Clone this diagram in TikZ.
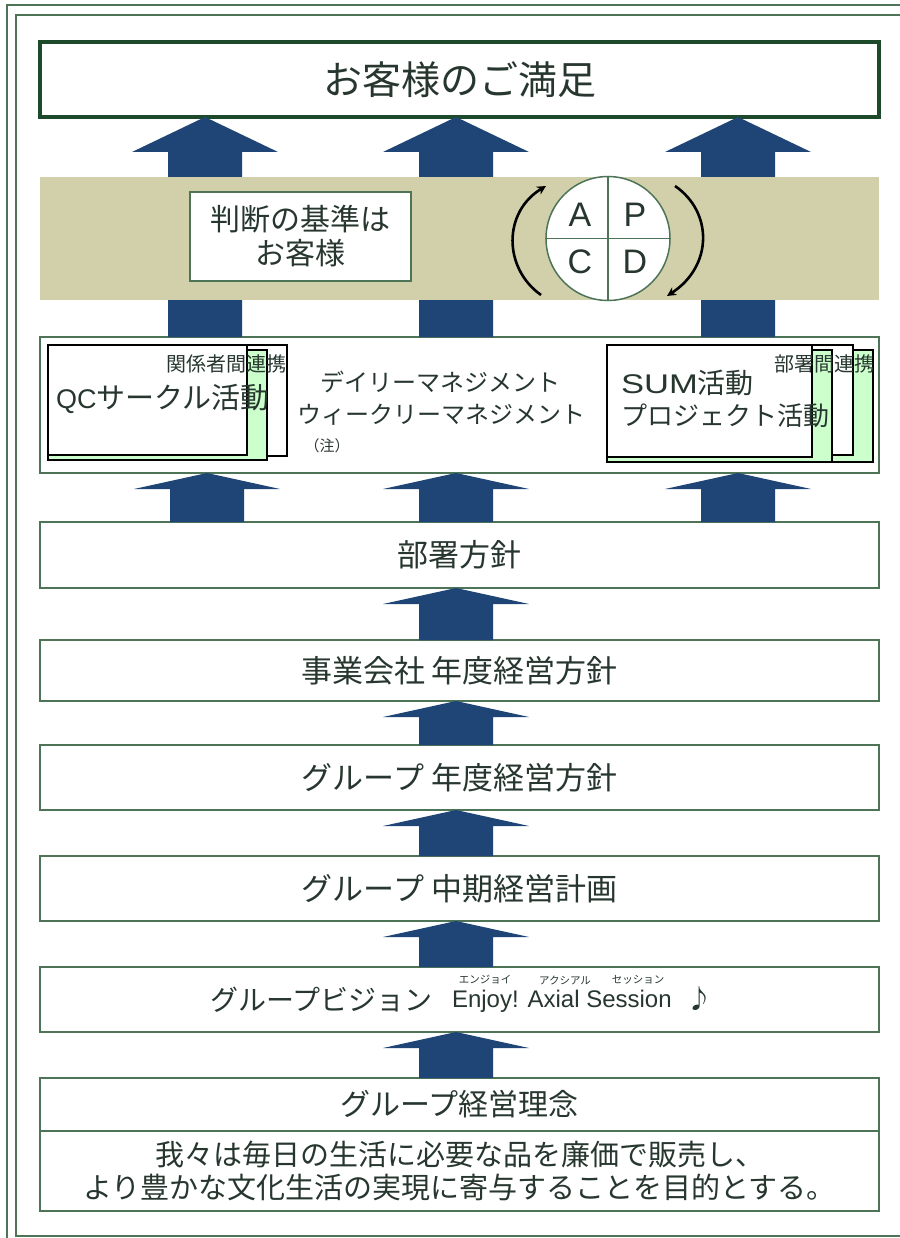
\documentclass[tikz,border=0pt]{standalone}
\usepackage{fontspec}
\usepackage{graphicx}
\newfontfamily\jp{Noto Sans CJK JP}
\newfontfamily\lat{Liberation Sans}
\usetikzlibrary{arrows.meta,calc}
\definecolor{framec}{HTML}{4E7458}
\definecolor{titlec}{HTML}{1E4A2C}
\definecolor{arrowblue}{HTML}{1F4577}
\definecolor{bandc}{HTML}{D1D0AA}
\definecolor{txt}{HTML}{27372F}
\definecolor{lgreen}{HTML}{CCFFCC}
\newcommand\fs[1]{\fontsize{#1}{#1}\selectfont}
% block arrow: #1 x centre, #2 upper node, #3 lower node, #4 head height
\newcommand\blockup[4]{\fill[arrowblue] let \p1=(#2.south), \p2=(#3.north) in
 ({#1pt-37pt},\y2) -- ({#1pt-37pt},{\y1-#4pt}) -- ({#1pt-73pt},{\y1-#4pt}) -- ({#1pt},\y1)
 -- ({#1pt+73pt},{\y1-#4pt}) -- ({#1pt+37pt},{\y1-#4pt}) -- ({#1pt+37pt},\y2) -- cycle;}
\begin{document}
\begin{tikzpicture}[x=1pt,y=-1pt,
  box/.style={draw=framec, line width=1.3pt, fill=white, inner sep=0pt, outer sep=0pt,
     minimum width=839pt, text=txt, align=center},
  lbl/.style={text=txt, inner sep=0pt, outer sep=0pt, align=center},
  stackw/.style={draw=black, line width=1.2pt, fill=white},
  stackg/.style={draw=black, line width=1.2pt, fill=lgreen},
  cyc/.style={draw=black, line width=2.6pt, -{Stealth[length=9pt,width=9pt]}}]
\useasboundingbox (0,0) rectangle (899,1238);
\fill[white] (0,0) rectangle (899,1238);
% frame
\draw[framec, line width=1.1pt] (7,5) rectangle (940,1270);
\draw[framec, line width=1.1pt] (16,15) rectangle (930,1236);
% title
\node[box, draw=titlec, line width=4pt, minimum height=75pt, font=\jp\fs{39}] (title) at (459.5,79.5) {お客様のご満足};
% activity box
\node[box, minimum height=136pt] (act) at (459.5,405) {};
% QC stack
\draw[stackw] (60,345) rectangle (287,456);
\draw[stackg] (48,350) rectangle (267,460);
\draw[stackw] (48,345) rectangle (247,455);
\node[lbl, anchor=east, font=\jp\fs{20}] (kankei) at (286,364) {関係者間連携};
\node[lbl, anchor=west, font=\jp\fs{29}] (qc) at (56,399) {{\lat\fs{27}QC}サークル活動};
% SUM stack
\draw[stackg] (640,350) rectangle (873,462);
\draw[stackw] (630,345) rectangle (853,455);
\draw[stackg] (607,350) rectangle (832,462);
\draw[stackw] (607,345) rectangle (812,457);
\node[lbl, anchor=east, font=\jp\fs{20}] (busho) at (874,364) {部署間連携};
\node[lbl, anchor=west, font=\jp\fs{28}] (sum) at (621,383) {\scalebox{1.28}[1]{\lat\fs{27}SUM}活動};
\node[lbl, anchor=west, font=\jp\fs{26}] (proj) at (621,416) {プロジェクト活動};
% middle texts
\node[lbl, font=\jp\fs{24}] (daily) at (440,382) {デイリーマネジメント};
\node[lbl, font=\jp\fs{24}] (weekly) at (441,415) {ウィークリーマネジメント};
\node[lbl, font=\jp\fs{15}] (chu) at (327,446) {（注）};
% lower boxes
\node[box, minimum height=66pt, font=\jp\fs{31}] (bumon) at (459.5,555) {部署方針};
\node[box, minimum height=61pt, font=\jp\fs{31}] (jigyo) at (459.5,670.5) {事業会社 年度経営方針};
\node[box, minimum height=65pt, font=\jp\fs{31}] (gnendo) at (459.5,777.5) {グループ 年度経営方針};
\node[box, minimum height=65pt, font=\jp\fs{31}] (gchuki) at (459.5,888.5) {グループ 中期経営計画};
\node[box, minimum height=65pt] (vision) at (459.5,999.5) {};
\node[lbl, anchor=west, font=\jp\fs{28}] (vtext) at (210,1000) {グループビジョン};
\node[lbl, anchor=west, font=\lat\fs{24}] (enjoy) at (452,1001) {Enjoy! Axial Session};
\node[lbl, anchor=west, font=\jp\fs{26}] (note) at (686,999) {♪};
\node[lbl, font=\jp\fs{10.5}] (r1) at (485,980) {エンジョイ};
\node[lbl, font=\jp\fs{10.5}] (r2) at (565,980) {アクシアル};
\node[lbl, font=\jp\fs{10.5}] (r3) at (638,980) {セッション};
\node[box, minimum height=53pt, font=\jp\fs{30}] (rinen) at (459.5,1104.5) {グループ経営理念};
\node[box, minimum height=80pt, font=\jp\fs{29}, text width=839pt] (rinen2) at (459.5,1171) {我々は毎日の生活に必要な品を廉価で販売し、\\[4pt]より豊かな文化生活の実現に寄与することを目的とする。};
% arrows
\blockup{205}{title}{act}{35}
\blockup{456}{title}{act}{35}
\blockup{738}{title}{act}{35}
\blockup{207}{act}{bumon}{16}
\blockup{456}{act}{bumon}{16}
\blockup{738}{act}{bumon}{16}
\blockup{456}{bumon}{jigyo}{16}
\blockup{456}{jigyo}{gnendo}{16}
\blockup{456}{gnendo}{gchuki}{16}
\blockup{456}{gchuki}{vision}{16}
\blockup{456}{vision}{rinen}{16}
% band
\node[fill=bandc, minimum width=839pt, minimum height=123pt, inner sep=0pt] (band) at (459.5,238.5) {};
\node[box, minimum width=221pt, minimum height=89pt, font=\jp\fs{30}] (judge) at (300.5,236.5) {判断の基準は\\[4pt]お客様};
% PDCA
\node[draw=framec, fill=white, circle, line width=1.5pt, minimum size=124pt, inner sep=0pt] (pdca) at (608,238.5) {};
\draw[framec, line width=1.5pt] (pdca.north) -- (pdca.south);
\draw[framec, line width=1.5pt] (pdca.west) -- (pdca.east);
\node[lbl, font=\lat\fs{34}] (pa) at (580,215) {A};
\node[lbl, font=\lat\fs{34}] (pp) at (635,215) {P};
\node[lbl, font=\lat\fs{34}] (pc) at (580,262) {C};
\node[lbl, font=\lat\fs{34}] (pd) at (635,262) {D};
\coordinate (l1) at (541,295);
\coordinate (l2) at (546,186);
\coordinate (r1c) at (675,186);
\coordinate (r2c) at (667,296);
\draw[cyc] (l1) .. controls (503,268) and (503,212) .. (l2);
\draw[cyc] (r1c) .. controls (713,212) and (713,266) .. (r2c);
\end{tikzpicture}
\end{document}
